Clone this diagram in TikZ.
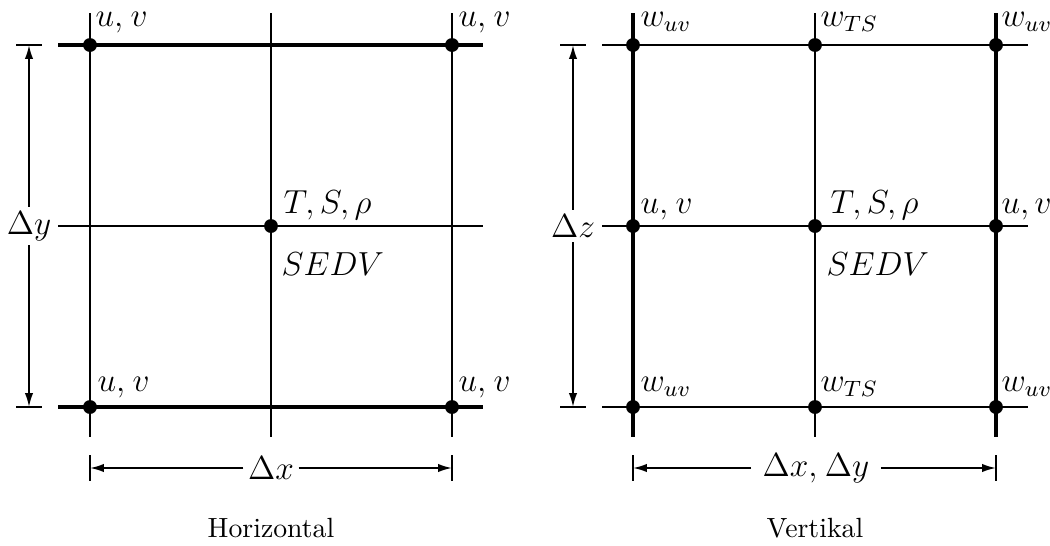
\documentclass[tikz,border=0pt]{standalone}
\usetikzlibrary{arrows.meta,positioning}

\begin{document}
\begin{tikzpicture}[x=0.36pt,y=-0.36pt,
    gridpt/.style={circle,fill,inner sep=0pt,minimum size=5pt},
    gridline/.style={line width=0.65pt},
    boldline/.style={line width=1.1pt},
    tickline/.style={line width=0.9pt},
    dimarrow/.style={line width=0.65pt,-{Latex[length=5pt,width=3pt]}},
    lab/.style={anchor=base west,inner sep=0pt,font=\large},
    dimlab/.style={fill=white,inner sep=1.5pt,font=\large}]
  \useasboundingbox (0,0) rectangle (1050,545);

  % horizontal grid
  \foreach \x in {90,271,452} \draw[gridline] (\x,13) -- (\x,437);
  \draw[boldline] (58,45) -- (483,45);
  \draw[gridline] (58,226) -- (483,226);
  \draw[boldline] (58,407) -- (483,407);
  \node[gridpt] (hnw) at (90,45) {};
  \node[gridpt] (hne) at (452,45) {};
  \node[gridpt] (hc) at (271,226) {};
  \node[gridpt] (hsw) at (90,407) {};
  \node[gridpt] (hse) at (452,407) {};
  \node[lab] at (95,26) {$u,\mkern1mu v$};
  \node[lab] at (458,26) {$u,\mkern1mu v$};
  \node[lab] at (97,391) {$u,\mkern1mu v$};
  \node[lab] at (458,391) {$u,\mkern1mu v$};
  \node[lab] at (283,213) {$T,S,\rho$};
  \node[lab] at (281,275) {$SEDV$};

  % dimensions horizontal
  \draw[tickline] (16,45) -- (42,45) coordinate[pos=0.5] (hy1);
  \draw[tickline] (16,407) -- (42,407) coordinate[pos=0.5] (hy2);
  \node[dimlab] (dy) at (29,226) {$\Delta y$};
  \draw[dimarrow] (dy) -- (hy1);
  \draw[dimarrow] (dy) -- (hy2);
  \draw[tickline] (90,455) -- (90,481) coordinate[pos=0.5] (hx1);
  \draw[tickline] (452,455) -- (452,481) coordinate[pos=0.5] (hx2);
  \node[dimlab] (dx) at (271,468) {$\Delta x$};
  \draw[dimarrow] (dx) -- (hx1);
  \draw[dimarrow] (dx) -- (hx2);
  \node (htitle) at (271,528) {Horizontal};

  % vertical grid
  \foreach \y in {45,226,407} \draw[gridline] (602,\y) -- (1028,\y);
  \draw[boldline] (633,13) -- (633,437);
  \draw[gridline] (815,13) -- (815,437);
  \draw[boldline] (996,13) -- (996,437);
  \foreach \x/\c in {633/w,815/c,996/e}
    \foreach \y/\r in {45/n,226/m,407/s}
      \node[gridpt] (v\r\c) at (\x,\y) {};
  \node[lab] at (640,26) {$w_{uv}$};
  \node[lab] at (820,26) {$w_{TS}$};
  \node[lab] at (1001,26) {$w_{uv}$};
  \node[lab] at (640,213) {$u,\mkern1mu v$};
  \node[lab] at (830,213) {$T,S,\rho$};
  \node[lab] at (1001,213) {$u,v$};
  \node[lab] at (826,275) {$SEDV$};
  \node[lab] at (640,391) {$w_{uv}$};
  \node[lab] at (820,391) {$w_{TS}$};
  \node[lab] at (1001,391) {$w_{uv}$};

  % dimensions vertical
  \draw[tickline] (560,45) -- (586,45) coordinate[pos=0.5] (vz1);
  \draw[tickline] (560,407) -- (586,407) coordinate[pos=0.5] (vz2);
  \node[dimlab] (dz) at (573,226) {$\Delta z$};
  \draw[dimarrow] (dz) -- (vz1);
  \draw[dimarrow] (dz) -- (vz2);
  \draw[tickline] (633,455) -- (633,481) coordinate[pos=0.5] (vx1);
  \draw[tickline] (996,455) -- (996,481) coordinate[pos=0.5] (vx2);
  \node[dimlab,inner sep=4pt] (dxy) at (816,468) {$\Delta x,\mkern1mu\Delta y$};
  \draw[dimarrow] (dxy) -- (vx1);
  \draw[dimarrow] (dxy) -- (vx2);
  \node (vtitle) at (815,528) {Vertikal};
\end{tikzpicture}
\end{document}
